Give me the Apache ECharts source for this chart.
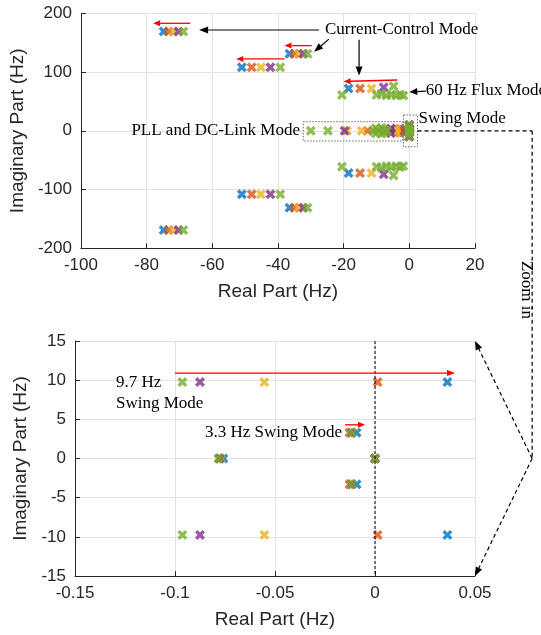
<!DOCTYPE html>
<html><head><meta charset="utf-8">
<script src="https://cdn.jsdelivr.net/npm/echarts/dist/echarts.min.js"></script>
<style>html,body{margin:0;padding:0;background:#fff}#c{width:541px;height:635px}</style>
</head><body><div id="c"></div>
<script>
// ---------- data (eigenvalues, [real Hz, imag Hz]) ----------
const caseNames = ['Case 1', 'Case 2', 'Case 3', 'Case 4', 'Case 5'];
const caseColors = ['#0072BD', '#D95319', '#EDB120', '#7E2F8E', '#77AC30'];

const case1Eig = [[-74.8,169],[-74.8,-169],[-51,108],[-51,-108],[-36.5,131],[-36.5,-131],
  [-18.5,72],[-18.5,-72],[-2,0],[-1.8,2.5],[-1.8,-2.5],
  [0.0362,9.76],[0.0362,-9.76],[-0.0092,3.3],[-0.0092,-3.3],[-0.0758,0],[0,0]];
const case2Eig = [[-73.3,169],[-73.3,-169],[-48,108],[-48,-108],[-35,131],[-35,-131],
  [-15,72],[-15,-72],[-12.7,0],[-3,0],[-2.9,3],[-2.9,-3],
  [0.0013,9.76],[0.0013,-9.76],[-0.0128,3.3],[-0.0128,-3.3],[-0.0775,0],[0,0]];
const case3Eig = [[-71.8,169],[-71.8,-169],[-45.2,108],[-45.2,-108],[-33.7,131],[-33.7,-131],
  [-11.5,72],[-11.5,-72],[-19,0],[-14.5,0],[-4.2,0],[-4,3.5],[-4,-3.5],
  [-0.0553,9.76],[-0.0553,-9.76],[-0.0122,3.3],[-0.0122,-3.3],[-0.0772,0],[0,0]];
const case4Eig = [[-70.3,169],[-70.3,-169],[-42.3,108],[-42.3,-108],[-32.3,131],[-32.3,-131],
  [-7.8,74],[-7.8,-74],[-19.7,0],[-6,0],[-5.6,4],[-5.6,-4],
  [-0.0875,9.76],[-0.0875,-9.76],[-0.0118,3.3],[-0.0118,-3.3],[-0.0778,0],[0,0]];
const case5Eig = [[-68.8,169],[-68.8,-169],[-39.3,108],[-39.3,-108],[-31,131],[-31,-131],
  [-20.5,61],[-20.5,-61],[-10,61],[-10,-61],[-8.5,63],[-8.5,-63],[-7,60],[-7,-60],
  [-5.5,62],[-5.5,-62],[-4,60],[-4,-60],[-2.8,62],[-2.8,-62],[-1.8,60],[-1.8,-60],
  [-4.8,76],[-4.8,-76],
  [-30,0],[-24.8,0],[-11,0],[-10.2,4.5],[-10.2,-4.5],[-9.3,0],[-8.5,5],[-8.5,-5],
  [-7.6,2.5],[-7.6,-2.5],[-6.8,0],
  [-0.0963,9.76],[-0.0963,-9.76],[-0.0115,3.3],[-0.0115,-3.3],[-0.0783,0],[0,0]];
const caseData = [case1Eig, case2Eig, case3Eig, case4Eig, case5Eig];

const topXTicks = {min: -100, max: 20, interval: 20};
const topYTicks = {min: -200, max: 200, interval: 100};
const botXTicks = {min: -0.15, max: 0.05, interval: 0.05};
const botYTicks = {min: -15, max: 15, interval: 5};
const xName = 'Real Part (Hz)';
const yName = 'Imaginary Part (Hz)';

// ---------- chart ----------
const SANS = '"Liberation Sans", Arial, sans-serif';
const SERIF = '"Liberation Serif", "Times New Roman", serif';
const AX = '#262626';
const xMarker = 'path://M0,2.4 L2.4,0 L5,2.6 L7.6,0 L10,2.4 L7.4,5 L10,7.6 L7.6,10 L5,7.4 L2.4,10 L0,7.6 L2.6,5 Z';

function xAxisOf(gi, t) {
  return {
    type: 'value', gridIndex: gi, min: t.min, max: t.max, interval: t.interval,
    name: xName, nameLocation: 'middle', nameGap: 34,
    nameTextStyle: {fontSize: 19, fontFamily: SANS, color: AX},
    axisLine: {show: true, onZero: false, lineStyle: {color: AX, width: 1}},
    axisTick: {show: true, inside: true, length: 5, lineStyle: {color: AX}},
    axisLabel: {fontSize: 17, fontFamily: SANS, color: AX, margin: 9},
    splitLine: {show: true, lineStyle: {color: '#e3e3e3', width: 1}}
  };
}
function yAxisOf(gi, t) {
  return {
    type: 'value', gridIndex: gi, min: t.min, max: t.max, interval: t.interval,
    name: yName, nameLocation: 'middle', nameGap: 45,
    nameTextStyle: {fontSize: 19, fontFamily: SANS, color: AX},
    axisLine: {show: true, onZero: false, lineStyle: {color: AX, width: 1}},
    axisTick: {show: true, inside: true, length: 5, lineStyle: {color: AX}},
    axisLabel: {fontSize: 17, fontFamily: SANS, color: AX, margin: 9},
    splitLine: {show: true, lineStyle: {color: '#e3e3e3', width: 1}}
  };
}

const series = [];
[0, 1].forEach(gi => {
  caseData.forEach((d, i) => {
    series.push({
      type: 'scatter', name: caseNames[i], xAxisIndex: gi, yAxisIndex: gi,
      data: d, symbol: xMarker, symbolSize: 10, clip: true, silent: true,
      itemStyle: {color: caseColors[i]}
    });
  });
});

const chart = echarts.init(document.getElementById('c'), null, {renderer: 'canvas'});
chart.setOption({
  animation: false,
  backgroundColor: '#fff',
  grid: [
    {left: 75, top: 13.3, width: 400, height: 235},
    {left: 75, top: 341, width: 400, height: 235}
  ],
  xAxis: [xAxisOf(0, topXTicks), xAxisOf(1, botXTicks)],
  yAxis: [yAxisOf(0, topYTicks), yAxisOf(1, botYTicks)],
  series: series
});

// ---------- annotations ----------
const P0 = v => chart.convertToPixel({gridIndex: 0}, v);
const P1 = v => chart.convertToPixel({gridIndex: 1}, v);
const els = [];
function arrow(a, b, color, lw, dash, hl, hw) {
  const dx = b[0]-a[0], dy = b[1]-a[1], L = Math.hypot(dx, dy), ux = dx/L, uy = dy/L;
  const bx = b[0]-ux*hl, by = b[1]-uy*hl, nx = -uy, ny = ux;
  els.push({type: 'line', z: 100, shape: {x1: a[0], y1: a[1], x2: bx, y2: by},
    style: {stroke: color, lineWidth: lw, lineDash: dash || null}});
  els.push({type: 'polygon', z: 100, shape: {points: [[b[0], b[1]], [bx+nx*hw, by+ny*hw], [bx-nx*hw, by-ny*hw]]},
    style: {fill: color}});
}
function line(a, b, color, lw, dash) {
  els.push({type: 'line', z: 100, shape: {x1: a[0], y1: a[1], x2: b[0], y2: b[1]},
    style: {stroke: color, lineWidth: lw, lineDash: dash || null}});
}
function text(p, s, align, rot) {
  els.push({type: 'text', z: 101, x: p[0], y: p[1], rotation: rot || 0,
    style: {text: s, font: '17px ' + SERIF, fill: '#000', align: align || 'left', verticalAlign: 'middle',
      textAlign: align || 'left', textVerticalAlign: 'middle'}});
}
function box(a, b) {
  els.push({type: 'rect', z: 99, shape: {x: a[0], y: a[1], width: b[0]-a[0], height: b[1]-a[1]},
    style: {fill: null, stroke: '#6b6b6b', lineWidth: 1, lineDash: [1.5, 1.5]}});
}

// top chart
arrow(P0([-66.7, 183]), P0([-78, 183]), '#ff0000', 1.3, null, 7, 3);
arrow(P0([-38, 122.4]), P0([-52.7, 122.4]), '#ff0000', 1.3, null, 7, 3);
arrow(P0([-29.7, 145]), P0([-38, 145]), '#ff0000', 1.3, null, 7, 3);
arrow(P0([-3.7, 86.5]), P0([-20, 84]), '#ff0000', 1.3, null, 7, 3);
text(P0([-25.7, 171.8]), 'Current-Control Mode');
arrow(P0([-27.5, 171.6]), P0([-64, 171.6]), '#000', 1.2, null, 9, 3.5);
arrow(P0([-24.5, 156]), P0([-29, 134.5]), '#000', 1.2, null, 9, 3.5);
arrow(P0([-15.3, 155]), P0([-15.3, 94]), '#000', 1.2, null, 9, 3.5);
text(P0([5, 68.3]), '60 Hz Flux Mode');
arrow(P0([5, 67.5]), P0([0, 66]), '#000', 1.2, null, 8, 3.5);
text(P0([-33.3, 0]), 'PLL and DC-Link Mode', 'right');
box(P0([-32.3, 15.5]), P0([-2, -17.4]));
box(P0([-1.8, 26.9]), P0([2.5, -27.1]));
text(P0([2.8, 21.3]), 'Swing Mode');
// zoom-in connector
const c1 = P0([2.5, 0]), c2 = P0([37.4, 0]);
const c3 = P1([0.079, 0]);
line(c1, [c2[0], c1[1]], '#000', 1.2, [4, 3]);
line([c2[0], c1[1]], [c2[0], c3[1]], '#000', 1.2, [4, 3]);
arrow([c2[0], c3[1]], P1([0.05, 15]), '#000', 1.2, [4, 3], 9, 3.5);
arrow([c2[0], c3[1]], P1([0.05, -15]), '#000', 1.2, [4, 3], 9, 3.5);
text([c2[0]-6, 290], 'Zoom in', 'center', -Math.PI/2);

// bottom chart
line(P1([0, 15]), P1([0, -15]), '#000', 1, [3, 2]);
arrow(P1([-0.1, 10.9]), P1([0.04, 10.9]), '#ff0000', 1.3, null, 8, 3);
arrow(P1([-0.015, 4.3]), P1([-0.005, 4.3]), '#ff0000', 1.3, null, 7, 3);
text(P1([-0.1295, 9.76]), '9.7 Hz');
text(P1([-0.1295, 7.0]), 'Swing Mode');
text(P1([-0.085, 3.3]), '3.3 Hz Swing Mode');

chart.setOption({graphic: {elements: els}});
</script>
</body></html>
